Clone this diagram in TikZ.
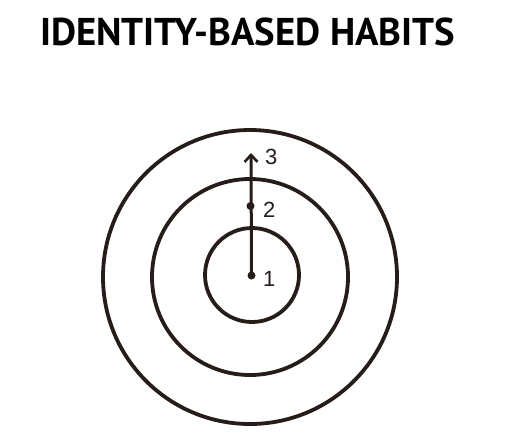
\documentclass[tikz,border=0pt]{standalone}
\usepackage{fontspec}
\setmainfont{PT Sans}
\newfontfamily\handfont{Liberation Sans}
\usetikzlibrary{arrows.meta}
\definecolor{ink}{RGB}{38,28,26}
\begin{document}
\begin{tikzpicture}[x=1pt,y=-1pt,
  ring/.style={draw=ink,line width=3.8pt},
  pt/.style={circle,fill=ink,inner sep=0pt,minimum size=8pt},
  numlabel/.style={text=ink,font=\handfont\fontsize{22}{22}\selectfont,anchor=west,inner sep=0pt},
  titletext/.style={font=\bfseries\fontsize{35}{35}\selectfont,anchor=base west,inner sep=0pt}]
\useasboundingbox (0,0) rectangle (510,440);
\node[titletext] (title) at (40,45) {\resizebox{415pt}{!}{IDENTITY-BASED HABITS}};
\coordinate (c) at (250,277);
\draw[ring] (c) circle[radius=147];
\draw[ring] (c) circle[radius=98];
\draw[ring] (252,275) circle[radius=47];
\node[pt] (p1) at (251.5,275.5) {};
\node[pt] (p2) at (250.5,206) {};
\coordinate (p3) at (251,153);
\draw[ink,line width=3pt,-{Straight Barb[length=7pt,width=13pt,line width=2.6pt]}] (p1.center) -- (p3);
\node[numlabel] (l1) at (263,279) {1};
\node[numlabel] (l2) at (263,210) {2};
\node[numlabel] (l3) at (265,157) {3};
\end{tikzpicture}
\end{document}
